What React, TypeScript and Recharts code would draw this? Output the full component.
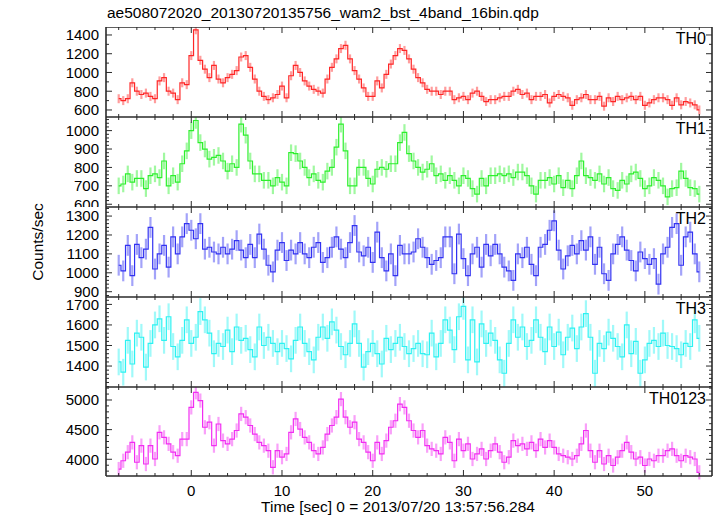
import { LineChart, Line, XAxis, YAxis, ErrorBar } from "recharts";

// light curve bins: first bin centre and bin width (sec)
const T0 = -8;
const BIN = 0.5;

const th0 = [
  720, 700, 720, 890, 800, 765, 780, 745,
  720, 910, 945, 800, 780, 710, 890, 870,
  1180, 1455, 1130, 1035, 945, 1075, 930, 890,
  945, 980, 1020, 1165, 1180, 1055, 930, 800,
  745, 710, 730, 765, 855, 730, 965, 1075,
  1000, 910, 855, 820, 800, 780, 930, 1055,
  1145, 1255, 1290, 1145, 1020, 930, 835, 745,
  745, 910, 835, 980, 1090, 1180, 1255, 1235,
  1145, 1035, 945, 890, 820, 800, 800, 765,
  800, 800, 710, 730, 745, 710, 780, 800,
  745, 690, 710, 710, 730, 745, 745, 800,
  820, 765, 780, 710, 745, 745, 765, 675,
  745, 765, 745, 730, 650, 710, 730, 765,
  710, 710, 745, 640, 730, 690, 745, 710,
  730, 745, 710, 745, 650, 675, 710, 730,
  730, 710, 650, 730, 655, 690, 675, 655,
  600,
];

const th1 = [
  700, 710, 765, 720, 740, 740, 685, 755,
  765, 745, 835, 700, 755, 720, 820, 890,
  1000, 1055, 935, 900, 845, 855, 865, 835,
  780, 820, 800, 1035, 975, 835, 765, 765,
  730, 730, 700, 745, 720, 700, 880, 875,
  835, 800, 745, 765, 730, 720, 780, 800,
  910, 1035, 890, 700, 700, 800, 800, 740,
  710, 790, 800, 790, 820, 820, 935, 990,
  875, 835, 800, 775, 790, 820, 755, 765,
  730, 755, 730, 700, 755, 740, 685, 655,
  740, 700, 755, 755, 765, 755, 765, 745,
  775, 775, 755, 700, 655, 730, 730, 745,
  710, 755, 690, 730, 685, 755, 835, 755,
  745, 730, 765, 710, 745, 685, 675, 730,
  710, 765, 775, 740, 685, 700, 745, 730,
  700, 640, 685, 690, 780, 740, 690, 685,
  655,
];

const th2 = [
  1040, 1010, 1145, 985, 1150, 1080, 1125, 1240,
  1020, 1100, 1145, 1030, 1190, 1100, 1190, 1260,
  1225, 1180, 1260, 1125, 1135, 1110, 1100, 1135,
  1100, 1125, 1170, 1120, 1080, 1150, 1080, 1205,
  1125, 1040, 1005, 1120, 1160, 1065, 1120, 1100,
  1160, 1100, 1080, 1135, 1160, 1055, 1080, 1135,
  1190, 1125, 1080, 1160, 1250, 1110, 1090, 1135,
  1055, 1215, 1080, 1010, 1100, 985, 1145, 1100,
  1100, 1110, 1180, 1135, 1080, 1045, 1065, 1080,
  1190, 1190, 995, 1205, 1075, 985, 1100, 1135,
  1030, 1150, 1090, 1150, 1100, 1030, 1010, 960,
  1100, 1080, 1135, 1045, 985, 1135, 1150, 1225,
  1275, 1120, 1020, 1090, 1145, 1100, 1170, 1120,
  1190, 1045, 1135, 995, 960, 1100, 1150, 1190,
  1120, 1065, 1010, 1110, 1075, 1045, 1075, 940,
  1100, 1135, 1240, 1260, 1040, 1190, 1215, 1100,
  1005,
];

const th3 = [
  1420, 1370, 1525, 1410, 1560, 1540, 1395, 1510,
  1600, 1630, 1525, 1640, 1495, 1445, 1525, 1625,
  1510, 1540, 1665, 1625, 1560, 1460, 1510, 1495,
  1575, 1470, 1590, 1525, 1535, 1480, 1445, 1590,
  1500, 1540, 1510, 1470, 1510, 1485, 1435, 1525,
  1590, 1510, 1470, 1430, 1540, 1590, 1535, 1615,
  1575, 1495, 1455, 1510, 1605, 1510, 1395, 1470,
  1510, 1460, 1410, 1535, 1480, 1510, 1540, 1495,
  1460, 1485, 1510, 1460, 1455, 1560, 1445, 1510,
  1625, 1575, 1480, 1640, 1690, 1430, 1625, 1420,
  1605, 1510, 1560, 1525, 1430, 1365, 1510, 1625,
  1540, 1590, 1495, 1525, 1625, 1540, 1470, 1590,
  1495, 1565, 1455, 1540, 1585, 1485, 1590, 1655,
  1540, 1365, 1510, 1485, 1565, 1535, 1495, 1445,
  1600, 1460, 1520, 1365, 1430, 1510, 1525, 1495,
  1560, 1500, 1495, 1485, 1455, 1510, 1495, 1625,
  1535,
];

const th0123 = [
  3835, 3975, 4120, 4285, 3950, 4230, 3920, 4230,
  4005, 4455, 4370, 4260, 4120, 4060, 4340, 4340,
  4875, 5130, 4990, 4540, 4625, 4230, 4595, 4315,
  4260, 4340, 4485, 4765, 4710, 4570, 4425, 4285,
  4230, 4145, 3865, 4145, 4035, 4090, 4455, 4680,
  4510, 4370, 4285, 4145, 4090, 4200, 4425, 4570,
  4710, 5015, 4710, 4540, 4625, 4340, 4285, 4120,
  3975, 4285, 4090, 4315, 4540, 4650, 4930, 4875,
  4650, 4485, 4370, 4485, 4230, 4175, 4145, 4090,
  4370, 4285, 3975, 4340, 4145, 4260, 4005, 4090,
  4175, 4005, 4145, 4260, 4120, 3950, 4035, 4315,
  4230, 4260, 4175, 4285, 4145, 4340, 4200, 4315,
  4200, 4090, 4060, 4035, 4005, 4060, 4260, 4485,
  4145, 3950, 4145, 3920, 4060, 3895, 4035, 4145,
  4285, 4120, 4005, 4035, 3895, 4005, 3975, 4060,
  4060, 4145, 4175, 4060, 3975, 4060, 4035, 4005,
  3780,
];

const bandSeries = [th0, th1, th2, th3, th0123];
const bandNames = ["TH0", "TH1", "TH2", "TH3", "TH0123"];
const bandColors = ["#ff2626", "#2cf02c", "#3232f2", "#2cf2f2", "#f22cf2"];
const bandErrors = [48, 45, 55, 65, 120];

const yDomains: [number, number][] = [
  [525, 1485],
  [585, 1074],
  [872, 1348],
  [1298, 1736],
  [3718, 5219],
];
const yMajorTicks = [
  [600, 800, 1000, 1200, 1400],
  [600, 700, 800, 900, 1000],
  [900, 1000, 1100, 1200, 1300],
  [1400, 1500, 1600, 1700],
  [4000, 4500, 5000],
];
const yMinorSteps = [100, 20, 20, 20, 100];

const xMajorTicks = [0, 10, 20, 30, 40, 50];
const xMinorStep = 2;
const xDomain: [number, number] = [-9.4, 57.4];

const title = "ae508072020_20130720135756_wam2_bst_4band_16bin.qdp";
const xTitle = "Time [sec] 0 = 2013/07/20 13:57:56.284";
const yTitle = "Counts/sec";

const W = 717;
const PLOT_LEFT = 106;
const PLOT_RIGHT = 712;
const PANEL_TOPS = [27, 117, 207, 297, 387];
const PANEL_BOTTOM = 476;
const Y_AXIS_W = 60;
const FONT = '"Liberation Sans", Arial, Helvetica, sans-serif';
const FRAME = { stroke: "#2a2a2a", strokeWidth: 1.6 };
const TICK_COLOR = "#2a2a2a";

const has = (list: number[], v: number) => list.some((m) => Math.abs(m - v) < 1e-6);

function Panel({ idx }: { idx: number }) {
  const top = PANEL_TOPS[idx];
  const bottom = idx < PANEL_TOPS.length - 1 ? PANEL_TOPS[idx + 1] : PANEL_BOTTOM;
  const isLast = idx === bandSeries.length - 1;
  const plotH = bottom - top;
  const axisH = isLast ? 40 : 10;
  const chartH = plotH + (isLast ? axisH : 0);
  const color = bandColors[idx];
  const [lo, hi] = yDomains[idx];
  const majors = yMajorTicks[idx];
  const step = yMinorSteps[idx];

  const data = bandSeries[idx].map((v, i) => ({ t: T0 + i * BIN, v, e: bandErrors[idx] }));

  const yTicks: number[] = [];
  for (let v = Math.ceil(lo / step) * step; v <= hi; v += step) yTicks.push(v);
  const xTicks: number[] = [];
  for (let t = Math.ceil(xDomain[0] / xMinorStep) * xMinorStep; t <= xDomain[1]; t += xMinorStep) xTicks.push(t);

  const leftTick = (p: any) => {
    const major = has(majors, p.payload.value);
    return (
      <g>
        <line x1={p.x} x2={p.x + (major ? 6 : 3)} y1={p.y} y2={p.y} stroke={TICK_COLOR} strokeWidth={1} />
        {major && (
          <text x={p.x - 7} y={p.y} dy="0.36em" textAnchor="end" fontFamily={FONT} fontSize={15} fill="#000">
            {p.payload.value}
          </text>
        )}
      </g>
    );
  };
  const rightTick = (p: any) => {
    const major = has(majors, p.payload.value);
    return <line x1={p.x} x2={p.x - (major ? 6 : 3)} y1={p.y} y2={p.y} stroke={TICK_COLOR} strokeWidth={1} />;
  };
  const bottomTick = (p: any) => {
    const major = has(xMajorTicks, p.payload.value);
    return (
      <g>
        <line x1={p.x} x2={p.x} y1={p.y} y2={p.y - (major ? 6 : 3)} stroke={TICK_COLOR} strokeWidth={1} />
        {isLast && major && (
          <text x={p.x} y={p.y + 20} textAnchor="middle" fontFamily={FONT} fontSize={15} fill="#000">
            {p.payload.value}
          </text>
        )}
      </g>
    );
  };
  const topTick = (p: any) => {
    const major = has(xMajorTicks, p.payload.value);
    return <line x1={p.x} x2={p.x} y1={p.y} y2={p.y + (major ? 6 : 3)} stroke={TICK_COLOR} strokeWidth={1} />;
  };

  return (
    <div style={{ position: "absolute", left: 0, top, width: W, height: chartH }}>
      <LineChart
        width={W}
        height={chartH}
        data={data}
        margin={{ top: 0, right: W - PLOT_RIGHT, bottom: 0, left: PLOT_LEFT - Y_AXIS_W }}
      >
        <XAxis
          xAxisId="b"
          type="number"
          dataKey="t"
          domain={xDomain}
          allowDataOverflow
          ticks={xTicks}
          interval={0}
          height={axisH}
          mirror={!isLast}
          tickSize={0}
          tickMargin={0}
          tickLine={false}
          axisLine={FRAME}
          tick={bottomTick}
        />
        <XAxis
          xAxisId="t"
          orientation="top"
          type="number"
          dataKey="t"
          domain={xDomain}
          allowDataOverflow
          ticks={xTicks}
          interval={0}
          height={10}
          mirror
          tickSize={0}
          tickMargin={0}
          tickLine={false}
          axisLine={FRAME}
          tick={topTick}
        />
        <YAxis
          yAxisId="l"
          type="number"
          domain={[lo, hi]}
          allowDataOverflow
          ticks={yTicks}
          interval={0}
          width={Y_AXIS_W}
          tickSize={0}
          tickMargin={0}
          tickLine={false}
          axisLine={FRAME}
          tick={leftTick}
        />
        <YAxis
          yAxisId="r"
          orientation="right"
          type="number"
          domain={[lo, hi]}
          allowDataOverflow
          ticks={yTicks}
          interval={0}
          width={10}
          mirror
          tickSize={0}
          tickMargin={0}
          tickLine={false}
          axisLine={FRAME}
          tick={rightTick}
        />
        <Line
          xAxisId="b"
          yAxisId="l"
          dataKey="v"
          type="step"
          stroke={color}
          strokeWidth={1.2}
          dot={false}
          isAnimationActive={false}
        >
          <ErrorBar dataKey="e" direction="y" width={0} stroke={color} strokeOpacity={0.45} strokeWidth={2.2} />
        </Line>
      </LineChart>
      <div
        style={{
          position: "absolute",
          right: W - 706,
          top: 4,
          fontFamily: FONT,
          fontSize: 16,
          lineHeight: 1,
          color: "#000",
        }}
      >
        {bandNames[idx]}
      </div>
    </div>
  );
}

export default function App() {
  return (
    <div
      style={{
        position: "absolute",
        left: 0,
        top: 0,
        width: W,
        height: 516,
        background: "#fff",
        overflow: "hidden",
        fontFamily: FONT,
      }}
    >
      <div style={{ position: "absolute", left: 107, top: 5, fontSize: 15.5, lineHeight: 1, whiteSpace: "nowrap" }}>
        {title}
      </div>
      {bandSeries.map((_, i) => (
        <Panel key={bandNames[i]} idx={i} />
      ))}
      <div
        style={{
          position: "absolute",
          left: 38,
          top: 242,
          transform: "translate(-50%, -50%) rotate(-90deg)",
          fontSize: 15.5,
          lineHeight: 1,
          whiteSpace: "nowrap",
        }}
      >
        {yTitle}
      </div>
      <div
        style={{
          position: "absolute",
          left: 398,
          top: 499,
          transform: "translateX(-50%)",
          fontSize: 15.5,
          lineHeight: 1,
          whiteSpace: "nowrap",
        }}
      >
        {xTitle}
      </div>
    </div>
  );
}
